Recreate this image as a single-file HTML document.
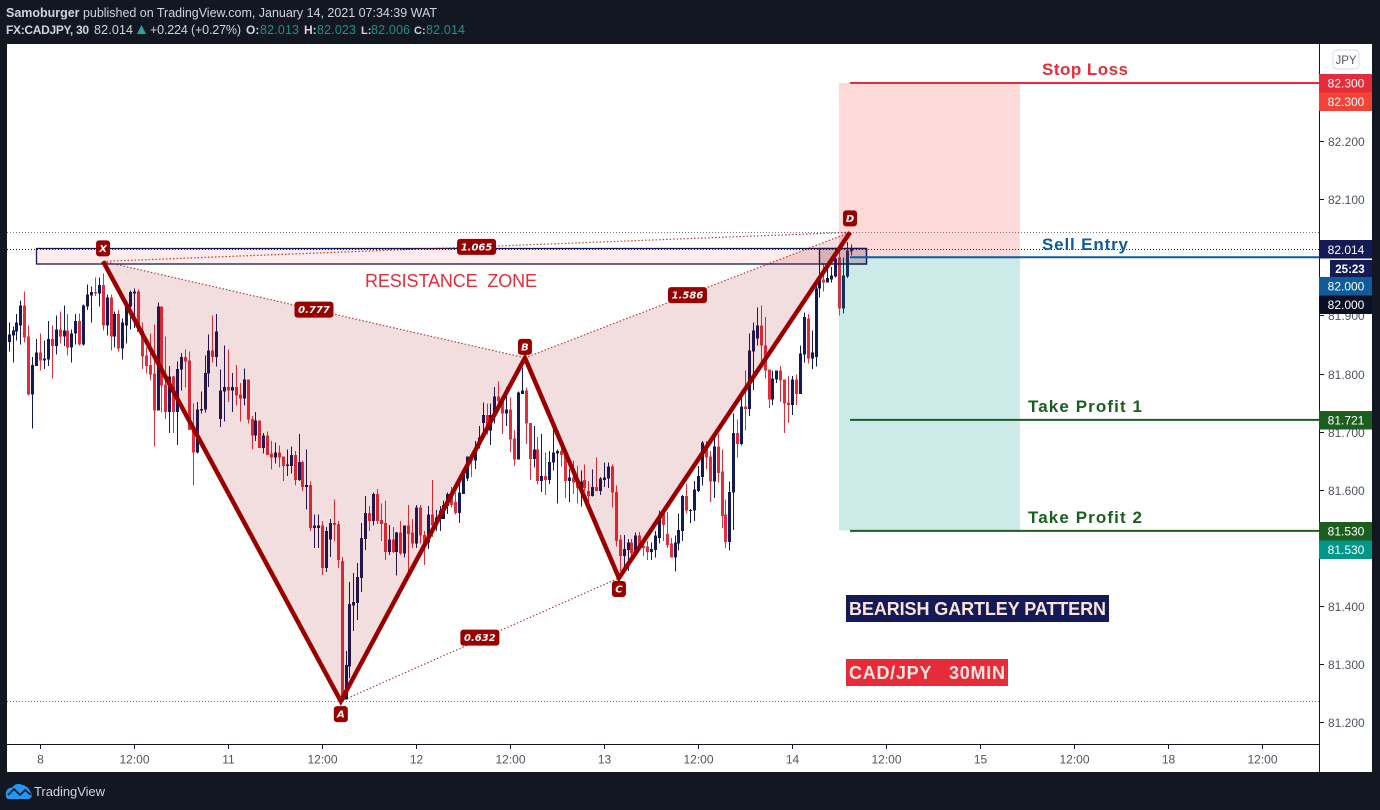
<!DOCTYPE html>
<html lang="en">
<head>
<meta charset="utf-8">
<title>FX:CADJPY 30 - Bearish Gartley Pattern</title>
<style>
html,body{margin:0;padding:0;background:#131722;width:1380px;height:810px;overflow:hidden}
svg{display:block;font-family:"Liberation Sans",sans-serif}
</style>
</head>
<body>
<svg id="chart" xmlns="http://www.w3.org/2000/svg" width="1380" height="810" viewBox="0 0 1380 810">
  <rect x="0" y="0" width="1380" height="810" fill="#131722"/>
  <g font-size="12.5">
    <text x="6" y="17" fill="#d1d4dc" textLength="431" lengthAdjust="spacing"><tspan font-weight="bold">Samoburger</tspan> published on TradingView.com, January 14, 2021 07:34:39 WAT</text>
    <text x="6" y="34" fill="#d1d4dc" font-weight="bold" font-size="12" textLength="83" lengthAdjust="spacing">FX:CADJPY, 30</text>
    <text x="94" y="34" fill="#d1d4dc" textLength="39">82.014</text>
    <polygon points="137,34 146,34 141.5,25" fill="#26a69a"/>
    <text x="150" y="34" fill="#d1d4dc" textLength="91">+0.224 (+0.27%)</text>
    <text x="246" y="34" fill="#d1d4dc" font-weight="bold" font-size="12">O:</text>
    <text x="260" y="34" fill="#1f9186" textLength="39">82.013</text>
    <text x="304" y="34" fill="#d1d4dc" font-weight="bold" font-size="12">H:</text>
    <text x="317" y="34" fill="#1f9186" textLength="39">82.023</text>
    <text x="361" y="34" fill="#d1d4dc" font-weight="bold" font-size="11">L:</text>
    <text x="371" y="34" fill="#1f9186" textLength="39">82.006</text>
    <text x="414" y="34" fill="#d1d4dc" font-weight="bold" font-size="11">C:</text>
    <text x="426" y="34" fill="#1f9186" textLength="39">82.014</text>
  </g>
  <rect x="7" y="44" width="1365" height="728" fill="#ffffff"/>
  <g id="plot"></g>
  <g id="overlay"></g>
  <rect x="1320" y="44" width="52" height="728" fill="#ffffff"/>
  <line x1="1319.5" y1="44" x2="1319.5" y2="772" stroke="#131722" stroke-width="1"/>
  <line x1="7" y1="744.5" x2="1319.5" y2="744.5" stroke="#131722" stroke-width="1"/>
  <g id="axes"></g>
  <g>
    <rect x="1333" y="50" width="26" height="19" rx="4" fill="#fff" stroke="#d6d8e0"/>
    <text x="1346" y="64" font-size="11.5" fill="#50535e" text-anchor="middle">JPY</text>
  </g>
  <g font-size="12" fill="#fff" text-anchor="middle">
    <rect x="1319" y="74" width="53" height="18.5" fill="#e62c3a"/>
    <text x="1346" y="87.5">82.300</text>
    <rect x="1319" y="92.5" width="53" height="18.5" fill="#f44336"/>
    <text x="1346" y="106">82.300</text>
    <rect x="1319" y="240" width="53" height="18.5" fill="#131a55"/>
    <text x="1346" y="254">82.014</text>
    <rect x="1330" y="260" width="42" height="17" fill="#131a55"/>
    <text x="1350" y="273" font-weight="bold" font-size="11.5">25:23</text>
    <rect x="1319" y="277" width="53" height="18.5" fill="#0f5c9c"/>
    <text x="1346" y="290.5">82.000</text>
    <rect x="1319" y="295.5" width="53" height="18.5" fill="#0b0f24"/>
    <text x="1346" y="309">82.000</text>
    <rect x="1319" y="411" width="53" height="18.5" fill="#1b5e20"/>
    <text x="1346" y="424.5">81.721</text>
    <rect x="1319" y="522" width="53" height="18.5" fill="#1b5e20"/>
    <text x="1346" y="535.5">81.530</text>
    <rect x="1319" y="540.5" width="53" height="18.5" fill="#009688"/>
    <text x="1346" y="554">81.530</text>
  </g>
  <g>
    <path d="M6 796 C5 790 9 787 12 788 C14 784 19 783 22 785 C26 785 30 789 31 793 C33 796 31 799 28 799 L9 799 C7 799 6 798 6 796Z" fill="#2196f3"/>
    <path d="M8 795 L14 789 L20 795 L25 790 L31 795" fill="none" stroke="#131722" stroke-width="1.6"/>
    <text x="34" y="796" font-size="13" fill="#d1d4dc" textLength="71">TradingView</text>
  </g>
</svg>
<script>
// Candle data (prices in JPY)
const candleOpen=[81.854,81.865,81.872,81.883,81.917,81.864,81.764,81.813,81.836,81.822,
81.824,81.859,81.847,81.876,81.864,81.874,81.845,81.869,81.890,81.850,
81.915,81.934,81.940,81.938,81.952,81.883,81.931,81.864,81.902,81.843,
81.883,81.915,81.938,81.941,81.874,81.831,81.815,81.800,81.736,81.915,
81.781,81.734,81.795,81.734,81.807,81.828,81.822,81.703,81.664,81.736,
81.738,81.800,81.840,81.828,81.722,81.769,81.777,81.771,81.777,81.764,
81.757,81.790,81.722,81.693,81.719,81.672,81.693,81.662,81.655,81.664,
81.657,81.641,81.641,81.660,81.617,81.648,81.605,81.608,81.534,81.534,
81.538,81.465,81.514,81.543,81.541,81.477,81.239,81.296,81.401,81.405,
81.448,81.515,81.560,81.546,81.593,81.548,81.543,81.493,81.514,81.493,
81.526,81.490,81.538,81.526,81.507,81.569,81.522,81.509,81.557,81.538,
81.550,81.550,81.572,81.593,81.579,81.560,81.593,81.619,81.657,81.650,
81.677,81.715,81.729,81.702,81.729,81.760,81.753,81.731,81.738,81.688,
81.652,81.765,81.771,81.715,81.653,81.669,81.615,81.624,81.617,81.647,
81.662,81.667,81.662,81.615,81.621,81.614,81.603,81.617,81.598,81.589,
81.605,81.598,81.617,81.619,81.640,81.596,81.514,81.486,81.496,81.509,
81.495,81.521,81.503,81.502,81.493,81.496,81.517,81.559,81.524,81.507,
81.483,81.507,81.529,81.589,81.564,81.564,81.598,81.622,81.671,81.657,
81.614,81.674,81.631,81.557,81.510,81.595,81.698,81.679,81.743,81.739,
81.838,81.860,81.883,81.848,81.807,81.755,81.790,81.805,81.790,81.750,
81.746,81.790,81.765,81.833,81.895,81.826,81.828,81.946,81.962,81.957,
81.962,81.967,82.000,81.912,81.967,82.010];
const candleHigh=[81.888,81.881,81.902,81.926,81.941,81.883,81.828,81.859,81.869,81.857,
81.890,81.883,81.900,81.907,81.917,81.902,81.876,81.902,81.903,81.919,
81.953,81.950,81.965,81.965,81.972,81.936,81.936,81.907,81.909,81.895,
81.921,81.943,81.946,81.945,81.888,81.845,81.869,81.884,81.922,81.915,
81.864,81.813,81.796,81.821,81.835,81.841,81.838,81.748,81.751,81.769,
81.831,81.867,81.900,81.902,81.807,81.848,81.841,81.801,81.815,81.784,
81.809,81.790,81.727,81.734,81.719,81.698,81.700,81.684,81.681,81.676,
81.657,81.669,81.674,81.667,81.696,81.650,81.669,81.614,81.557,81.557,
81.546,81.536,81.550,81.583,81.546,81.484,81.322,81.441,81.457,81.474,
81.543,81.589,81.572,81.595,81.601,81.576,81.581,81.539,81.536,81.527,
81.546,81.538,81.574,81.550,81.574,81.574,81.529,81.572,81.617,81.565,
81.572,81.581,81.595,81.605,81.595,81.615,81.628,81.657,81.662,81.684,
81.710,81.750,81.748,81.748,81.777,81.786,81.762,81.777,81.759,81.703,
81.769,81.810,81.776,81.715,81.710,81.691,81.696,81.664,81.667,81.707,
81.669,81.679,81.667,81.636,81.650,81.641,81.633,81.643,81.615,81.635,
81.655,81.622,81.647,81.647,81.643,81.607,81.522,81.522,81.515,81.515,
81.526,81.527,81.509,81.512,81.509,81.529,81.564,81.564,81.562,81.517,
81.521,81.559,81.591,81.610,81.567,81.615,81.641,81.684,81.684,81.667,
81.693,81.696,81.669,81.583,81.614,81.731,81.721,81.771,81.805,81.869,
81.888,81.914,81.917,81.897,81.807,81.805,81.805,81.813,81.790,81.796,
81.796,81.798,81.848,81.905,81.902,81.874,81.952,82.015,81.988,81.983,
81.983,82.017,82.012,82.000,82.026,82.022];
const candleLow=[81.838,81.819,81.857,81.850,81.853,81.762,81.705,81.813,81.805,81.808,
81.813,81.791,81.833,81.852,81.847,81.831,81.819,81.850,81.848,81.848,
81.909,81.888,81.933,81.915,81.874,81.865,81.840,81.845,81.838,81.824,
81.852,81.876,81.878,81.871,81.808,81.800,81.788,81.674,81.736,81.733,
81.722,81.698,81.698,81.677,81.771,81.776,81.703,81.607,81.662,81.731,
81.733,81.777,81.819,81.812,81.708,81.717,81.751,81.734,81.745,81.717,
81.745,81.714,81.669,81.684,81.672,81.662,81.660,81.635,81.645,81.638,
81.615,81.624,81.628,81.607,81.615,81.598,81.566,81.529,81.500,81.500,
81.453,81.458,81.484,81.512,81.465,81.236,81.239,81.276,81.357,81.376,
81.424,81.496,81.529,81.538,81.541,81.512,81.479,81.488,81.491,81.452,
81.488,81.483,81.459,81.500,81.500,81.507,81.470,81.498,81.519,81.529,
81.529,81.550,81.558,81.569,81.557,81.543,81.593,81.615,81.622,81.636,
81.671,81.696,81.695,81.677,81.714,81.741,81.696,81.710,81.665,81.641,
81.652,81.765,81.679,81.617,81.638,81.610,81.596,81.591,81.610,81.633,
81.576,81.640,81.586,81.579,81.593,81.576,81.571,81.598,81.569,81.588,
81.598,81.591,81.605,81.603,81.569,81.502,81.460,81.462,81.460,81.484,
81.490,81.495,81.486,81.479,81.479,81.483,81.507,81.512,81.500,81.483,
81.459,81.495,81.512,81.559,81.543,81.546,81.596,81.607,81.635,81.579,
81.586,81.612,81.534,81.500,81.495,81.531,81.655,81.676,81.702,81.727,
81.772,81.848,81.813,81.791,81.741,81.746,81.784,81.751,81.698,81.715,
81.729,81.746,81.765,81.819,81.817,81.808,81.812,81.931,81.941,81.957,
81.957,81.965,81.900,81.903,81.964,82.003];
const candleClose=[81.867,81.874,81.888,81.917,81.862,81.764,81.815,81.836,81.822,81.826,
81.859,81.847,81.876,81.864,81.874,81.845,81.869,81.890,81.850,81.917,
81.936,81.940,81.938,81.952,81.883,81.931,81.864,81.902,81.843,81.888,
81.917,81.940,81.941,81.871,81.829,81.813,81.798,81.736,81.915,81.779,
81.734,81.795,81.734,81.808,81.828,81.821,81.703,81.664,81.738,81.739,
81.801,81.840,81.828,81.872,81.771,81.777,81.771,81.777,81.762,81.757,
81.790,81.721,81.693,81.719,81.672,81.693,81.660,81.655,81.664,81.655,
81.641,81.643,81.660,81.617,81.648,81.605,81.608,81.534,81.538,81.538,
81.465,81.529,81.543,81.539,81.479,81.236,81.298,81.403,81.407,81.450,
81.517,81.560,81.546,81.593,81.546,81.541,81.493,81.514,81.493,81.526,
81.490,81.538,81.524,81.507,81.569,81.521,81.509,81.557,81.538,81.552,
81.564,81.574,81.593,81.574,81.560,81.595,81.626,81.657,81.650,81.667,
81.690,81.729,81.702,81.729,81.760,81.753,81.731,81.738,81.686,81.652,
81.767,81.771,81.714,81.653,81.669,81.615,81.624,81.617,81.648,81.664,
81.667,81.660,81.615,81.621,81.612,81.603,81.614,81.603,81.589,81.605,
81.598,81.619,81.621,81.640,81.595,81.512,81.486,81.498,81.509,81.491,
81.521,81.498,81.500,81.493,81.498,81.521,81.557,81.539,81.505,81.483,
81.509,81.531,81.589,81.564,81.565,81.600,81.624,81.681,81.655,81.614,
81.674,81.629,81.555,81.510,81.596,81.698,81.679,81.743,81.739,81.840,
81.874,81.883,81.848,81.805,81.755,81.791,81.805,81.788,81.748,81.746,
81.790,81.765,81.834,81.897,81.826,81.836,81.946,81.960,81.957,81.964,
81.969,81.998,81.912,81.969,82.012,82.014];

const priceTicks=[82.2,82.1,81.9,81.8,81.7,81.6,81.4,81.3,81.2];
const timeTickLabels=['8','12:00','11','12:00','12','12:00','13','12:00','14','12:00','15','12:00','18','12:00'];
const timeTickBars=[8,32,56,80,104,128,152,176,200,224,248,272,296,320];

const patternNames=['X','A','B','C','D'];
const patternBars=[24.1,84.8,131.8,155.8,214.8];
const patternPrices=[81.993,81.236,81.827,81.448,82.043];
const ratioValues=['0.777','1.586','0.632','1.065'];
const ratioFrom=[0,2,1,0];
const ratioTo=[2,4,3,4];

const stopPrice=82.300;
const entryPrice=82.000;
const targetPrices=[81.721,81.530];
const toolBars=[214.8,262];
const referenceLevels=[82.043,82.014,81.236];

const UP='#131a55',DOWN='#e62c3a',PATTERN='#990000';
const xOf=function(b){return 40+(b-8)*3.917;};
const yOf=function(p){return 83+(82.3-p)*581;};
const NS='http://www.w3.org/2000/svg';
function mk(parent,tag,attrs,txt){
  const el=document.createElementNS(NS,tag);
  for(const k in attrs){el.setAttribute(k,attrs[k]);}
  if(txt!==undefined){el.textContent=txt;}
  parent.appendChild(el);
  return el;
}
const plot=document.getElementById('plot');
const overlay=document.getElementById('overlay');
const axes=document.getElementById('axes');

// dotted reference levels
referenceLevels.forEach(function(p,i){
  const y=Math.round(yOf(p))+0.5;
  const el=mk(plot,'line',{x1:7,x2:1319,y1:y,y2:y,stroke:i===1?'#131722':'#777a85','stroke-width':1,'stroke-dasharray':'1 2'});
  
  
});

// candles
candleOpen.forEach(function(o,i){
  const c=candleClose[i];
  const col=c>=o?UP:DOWN;
  const x=Math.round(xOf(i));
  const g=mk(plot,'g',{'shape-rendering':'crispEdges'});
  
  
  const yH=yOf(candleHigh[i]),yL=yOf(candleLow[i]);
  const yT=yOf(Math.max(o,c)),yB=yOf(Math.min(o,c));
  const wick=mk(g,'rect',{x:x,y:yH,width:1,height:Math.max(1,yL-yH),fill:col});
  
  
  const body=mk(g,'rect',{x:x-1,y:yT,width:3,height:Math.max(1,yB-yT),fill:col});
  
  
});

// short position tool
const toolX1=xOf(toolBars[0])-11,toolX2=xOf(toolBars[1])-0;
const lastTarget=targetPrices[targetPrices.length-1];
const riskBox=mk(overlay,'rect',{x:toolX1,y:yOf(stopPrice),width:1020-toolX1,height:yOf(entryPrice)-yOf(stopPrice),fill:'#f44336','fill-opacity':0.2});


const rewardBox=mk(overlay,'rect',{x:toolX1,y:yOf(entryPrice),width:1020-toolX1,height:yOf(lastTarget)-yOf(entryPrice),fill:'#009688','fill-opacity':0.2});



// resistance zone
const zoneMain=mk(overlay,'rect',{x:36.5,y:248.5,width:830,height:15.5,fill:'#f23645','fill-opacity':0.1,stroke:UP,'stroke-width':1.3});


const zoneEnd=mk(overlay,'rect',{x:819.5,y:248.5,width:47,height:15.5,fill:UP,'fill-opacity':0.15,stroke:UP,'stroke-width':1.3});



// pattern fills
const pts=patternBars.map(function(b,i){return [xOf(b),yOf(patternPrices[i])];});
[[0,1,2],[2,3,4]].forEach(function(t){
  const el=mk(overlay,'polygon',{points:t.map(function(k){return pts[k].join(',');}).join(' '),fill:PATTERN,'fill-opacity':0.13});
  
  
});

// ratio dotted lines
ratioFrom.forEach(function(a,i){
  const b=ratioTo[i];
  const el=mk(overlay,'line',{x1:pts[a][0],y1:pts[a][1],x2:pts[b][0],y2:pts[b][1],stroke:PATTERN,'stroke-width':1.2,'stroke-opacity':0.75,'stroke-dasharray':'1.5 2'});
  
  
});

// pattern legs
const leg=mk(overlay,'polyline',{points:pts.map(function(p){return p.join(',');}).join(' '),fill:'none',stroke:PATTERN,'stroke-width':4.5,'stroke-linejoin':'miter'});



// ratio labels
const ratioLabelNudge=[0,0,-2,0];
ratioFrom.forEach(function(a,i){
  const b=ratioTo[i];
  const cx=(pts[a][0]+pts[b][0])/2,cy=(pts[a][1]+pts[b][1])/2+ratioLabelNudge[i];
  const box=mk(overlay,'rect',{x:cx-19.5,y:cy-8,width:39,height:16,rx:3,fill:PATTERN});
  
  
  const t=mk(overlay,'text',{x:cx,y:cy+3.5,'text-anchor':'middle','font-size':10,'font-weight':'bold','font-style':'italic',fill:'#fff','font-family':'"DejaVu Sans",sans-serif'},ratioValues[i]);
  
  
});

// pivot labels
const pivotOffset=[-13,13,-11,11,-14];
patternNames.forEach(function(n,i){
  const cx=pts[i][0],cy=pts[i][1]+pivotOffset[i];
  const box=mk(overlay,'rect',{x:cx-7,y:cy-8,width:14,height:16,rx:3,fill:PATTERN});
  
  
  const t=mk(overlay,'text',{x:cx,y:cy+3.5,'text-anchor':'middle','font-size':10,'font-weight':'bold','font-style':'italic',fill:'#fff','font-family':'"DejaVu Sans",sans-serif'},n);
  
  
});

// horizontal trade levels
const stopLine=mk(overlay,'line',{x1:850,x2:1319,y1:yOf(stopPrice),y2:yOf(stopPrice),stroke:'#e62c3a','stroke-width':2});


const entryLine=mk(overlay,'line',{x1:850,x2:1319,y1:yOf(entryPrice),y2:yOf(entryPrice),stroke:'#0f5c9c','stroke-width':2});


targetPrices.forEach(function(p){
  const el=mk(overlay,'line',{x1:850,x2:1319,y1:yOf(p)+0.5,y2:yOf(p)+0.5,stroke:'#1b5e20','stroke-width':2});
  
  
});

// text annotations
function note(name,txt,x,y,w,col,size,weight){
  const el=mk(overlay,'text',{x:x,y:y,fill:col,'font-size':size,'font-weight':weight,textLength:w,lengthAdjust:'spacing'},txt);
  el.setAttribute('xml:space','preserve');
  el.style.whiteSpace='pre';
  
  
  return el;
}
note('stop-loss-label','Stop Loss',1042,75,86,'#e62c3a',17,'bold');
note('sell-entry-label','Sell Entry',1042,250,86,'#0f5c9c',17,'bold');
note('take-profit-1-label','Take Profit 1',1028,412,114,'#1b5e20',17,'bold');
note('take-profit-2-label','Take Profit 2',1028,523,114,'#1b5e20',17,'bold');
note('resistance-zone-label','RESISTANCE  ZONE',365,287,172,'#e62c3a',18,'normal');

const gartleyBox=mk(overlay,'rect',{x:846,y:595,width:263,height:27,fill:UP});


note('pattern-title','BEARISH GARTLEY PATTERN',849,615,257,'#fce4dc',18,'bold');
const pairBox=mk(overlay,'rect',{x:846,y:659,width:162,height:27,fill:DOWN});


note('pair-title','CAD/JPY   30MIN',849,679,156,'#fde6de',18,'bold');

// price axis
priceTicks.forEach(function(p){
  const y=Math.round(yOf(p))+0.5;
  const tick=mk(axes,'line',{x1:1320,x2:1324,y1:y,y2:y,stroke:'#131722'});
  
  
  const t=mk(axes,'text',{x:1328,y:y+4.5,'font-size':12,fill:'#50535e'},p.toFixed(3));
  
  
});

// time axis
timeTickLabels.forEach(function(lbl,i){
  const x=Math.round(xOf(timeTickBars[i]))+0.5;
  const tick=mk(axes,'line',{x1:x,x2:x,y1:745,y2:749,stroke:'#131722'});
  
  
  const t=mk(axes,'text',{x:x,y:763.5,'font-size':12,fill:'#50535e','text-anchor':'middle'},lbl);
  
  
});
</script>
</body>
</html>
